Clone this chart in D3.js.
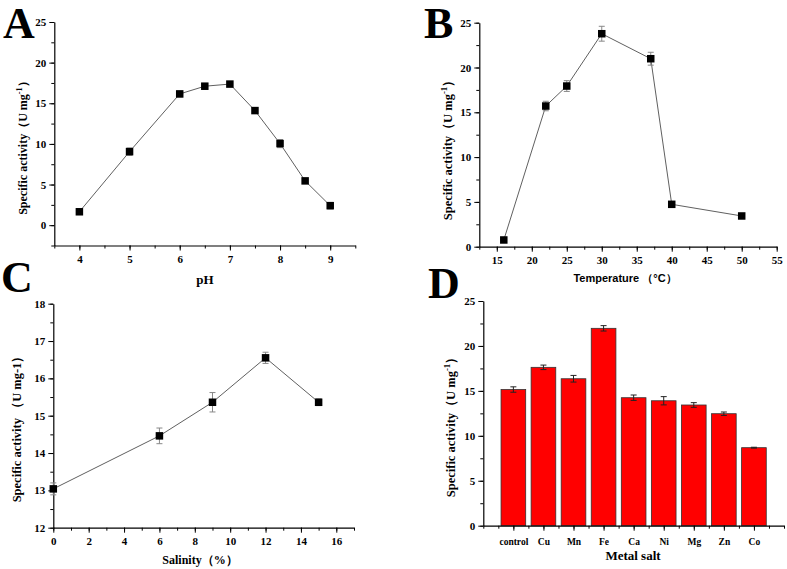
<!DOCTYPE html>
<html><head><meta charset="utf-8">
<script src="https://cdn.jsdelivr.net/npm/d3@7/dist/d3.min.js"></script>
<style>
html,body{margin:0;padding:0;background:#fff;}
svg{display:block;}
.tick text{font-family:"Liberation Serif","Times New Roman",serif;font-weight:bold;}
</style></head>
<body>
<svg id="chart" width="787" height="569"></svg>
<script>
// ---- data ----
const phX = [4, 5, 6, 6.5, 7, 7.5, 8, 8.5, 9];
const phY = [1.65, 9.05, 16.15, 17.1, 17.36, 14.1, 10.04, 5.45, 2.4];
const phErr = [0.1, 0.45, 0.35, 0.35, 0.15, 0.2, 0.5, 0.3, 0.4];
const phTicks = [4, 5, 6, 7, 8, 9];

const tempX = [16, 22, 25, 30, 37, 40, 50];
const tempY = [0.75, 15.7, 17.93, 23.77, 20.98, 4.73, 3.43];
const tempErr = [0.05, 0.53, 0.6, 0.83, 0.72, 0.1, 0.1];
const tempTicks = [15, 20, 25, 30, 35, 40, 45, 50, 55];

const salX = [0, 6, 9, 12, 15];
const salY = [13.04, 14.46, 15.36, 16.55, 15.36];
const salErr = [0.16, 0.21, 0.26, 0.15, 0.09];
const salTicks = [0, 2, 4, 6, 8, 10, 12, 14, 16];

const metals = ["control", "Cu", "Mn", "Fe", "Ca", "Ni", "Mg", "Zn", "Co"];
const metalY = [15.15, 17.62, 16.35, 21.96, 14.24, 13.9, 13.43, 12.46, 8.68];
const metalErr = [0.3, 0.25, 0.37, 0.3, 0.3, 0.46, 0.26, 0.19, 0.05];

const yTicksAB = [0, 5, 10, 15, 20, 25];
const yTicksC = [12, 13, 14, 15, 16, 17, 18];

const svg = d3.select("#chart");
const serif = '"Liberation Serif","Times New Roman",serif';
const sans = '"Liberation Sans",Arial,sans-serif';

function drawAxes(g, x, y, xTicks, xMinor, yTicks, yMinor, xFmt) {
  const xr = x.range(), yr = y.range();
  g.append("g").attr("transform", `translate(0,${yr[0]})`)
    .call(d3.axisBottom(x).tickValues(xMinor).tickSize(3).tickFormat(""))
    .call(s => s.select(".domain").remove())
    .selectAll("line").attr("stroke", "#000");
  g.append("g").attr("transform", `translate(${xr[0]},0)`)
    .call(d3.axisLeft(y).tickValues(yMinor).tickSize(3).tickFormat(""))
    .call(s => s.select(".domain").remove())
    .selectAll("line").attr("stroke", "#000");
  const xa = g.append("g").attr("transform", `translate(0,${yr[0]})`)
    .call(d3.axisBottom(x).tickValues(xTicks).tickSize(5).tickSizeOuter(0).tickPadding(5).tickFormat(xFmt || d3.format("d")));
  xa.select(".domain").attr("stroke", "#000").attr("stroke-width", 1.2);
  xa.selectAll("text").attr("font-size", 11).attr("fill", "#000");
  const ya = g.append("g").attr("transform", `translate(${xr[0]},0)`)
    .call(d3.axisLeft(y).tickValues(yTicks).tickSize(5).tickSizeOuter(0).tickPadding(3).tickFormat(d3.format("d")));
  ya.select(".domain").attr("stroke", "#000").attr("stroke-width", 1.2);
  ya.selectAll("text").attr("font-size", 11).attr("fill", "#000");
}

function drawLineSeries(g, x, y, xs, ys, es) {
  const pts = xs.map((v, i) => ({x: v, y: ys[i], e: es[i]}));
  g.append("path").datum(pts)
    .attr("fill", "none").attr("stroke", "#606060").attr("stroke-width", 1)
    .attr("d", d3.line().x(d => x(d.x)).y(d => y(d.y)));
  const eb = g.append("g").attr("stroke", "#888").attr("stroke-width", 1);
  pts.forEach(d => {
    eb.append("line").attr("x1", x(d.x)).attr("x2", x(d.x)).attr("y1", y(d.y - d.e)).attr("y2", y(d.y + d.e));
    eb.append("line").attr("x1", x(d.x) - 3).attr("x2", x(d.x) + 3).attr("y1", y(d.y - d.e)).attr("y2", y(d.y - d.e));
    eb.append("line").attr("x1", x(d.x) - 3).attr("x2", x(d.x) + 3).attr("y1", y(d.y + d.e)).attr("y2", y(d.y + d.e));
  });
  g.selectAll("rect.pt").data(pts).join("rect").attr("class", "pt")
    .attr("x", d => x(d.x) - 3.75).attr("y", d => y(d.y) - 3.75)
    .attr("width", 7.5).attr("height", 7.5).attr("fill", "#000");
}

function yLabel(g, cx, cy, size, sup, text) {
  const t = g.append("text").attr("transform", `translate(${cx},${cy}) rotate(-90)`)
    .attr("text-anchor", "middle").attr("font-family", serif).attr("font-weight", "bold")
    .attr("font-size", size).attr("fill", "#000");
  if (sup) {
    t.append("tspan").text("Specific activity（U mg");
    t.append("tspan").attr("dy", -5).attr("font-size", size * 0.7).text("-1");
    t.append("tspan").attr("dy", 5).text("）");
  } else {
    t.text(text);
  }
}

function letter(ch, x, y) {
  svg.append("text").attr("x", x).attr("y", y).attr("font-family", serif)
    .attr("font-weight", "bold").attr("font-size", 44).attr("fill", "#000").text(ch);
}

function range(a, b, s) { const r = []; for (let v = a; v <= b + 1e-9; v += s) r.push(+v.toFixed(4)); return r; }

// ---- Panel A ----
{
  const g = svg.append("g");
  const x = d3.scaleLinear().domain([3.5, 9.5]).range([54.3, 355.3]);
  const y = d3.scaleLinear().domain([-2.5, 25]).range([245.5, 22]);
  drawAxes(g, x, y, phTicks, range(3.5, 9.5, 0.5), yTicksAB, range(-2.5, 25, 2.5));
  drawLineSeries(g, x, y, phX, phY, phErr);
  yLabel(g, 27, 145, 12, true);
  g.append("text").attr("x", 205).attr("y", 284).attr("text-anchor", "middle")
    .attr("font-family", serif).attr("font-weight", "bold").attr("font-size", 13).text("pH");
}
// ---- Panel B ----
{
  const g = svg.append("g");
  const x = d3.scaleLinear().domain([12.5, 55]).range([479.3, 776.7]);
  const y = d3.scaleLinear().domain([0, 25]).range([246.7, 22.7]);
  drawAxes(g, x, y, tempTicks, range(12.5, 55, 2.5), yTicksAB, range(0, 25, 2.5));
  drawLineSeries(g, x, y, tempX, tempY, tempErr);
  yLabel(g, 452, 147, 12.5, true);
  g.append("text").attr("x", 625).attr("y", 282).attr("text-anchor", "middle")
    .attr("font-family", sans).attr("font-weight", "bold").attr("font-size", 11).text("Temperature （°C）");
}
// ---- Panel C ----
{
  const g = svg.append("g");
  const x = d3.scaleLinear().domain([0, 17]).range([53.3, 354]);
  const y = d3.scaleLinear().domain([12, 18]).range([527.7, 303.7]);
  drawAxes(g, x, y, salTicks, range(0, 17, 1), yTicksC, range(12, 18, 0.5));
  drawLineSeries(g, x, y, salX, salY, salErr);
  yLabel(g, 21, 426, 12.5, false, "Specific activity （U mg-1）");
  g.append("text").attr("x", 200).attr("y", 564).attr("text-anchor", "middle")
    .attr("font-family", serif).attr("font-weight", "bold").attr("font-size", 12).text("Salinity（%）");
}
// ---- Panel D ----
{
  const g = svg.append("g");
  const x = d3.scaleLinear().domain([0, 10]).range([483.3, 784]);
  const y = d3.scaleLinear().domain([0, 25]).range([525.7, 301]);
  const pos = metals.map((m, i) => i + 1);
  const bw = (x(1) - x(0)) * 0.82;
  g.selectAll("rect.bar").data(metals).join("rect").attr("class", "bar")
    .attr("x", (d, i) => x(pos[i]) - bw / 2).attr("y", (d, i) => y(metalY[i]))
    .attr("width", bw).attr("height", (d, i) => y(0) - y(metalY[i]))
    .attr("fill", "#ff0000").attr("stroke", "#333").attr("stroke-width", 0.8);
  const eb = g.append("g").attr("stroke", "#222").attr("stroke-width", 1);
  metals.forEach((m, i) => {
    const cx = x(pos[i]), t = y(metalY[i] + metalErr[i]), b = y(metalY[i] - metalErr[i]);
    eb.append("line").attr("x1", cx).attr("x2", cx).attr("y1", t).attr("y2", b);
    eb.append("line").attr("x1", cx - 3).attr("x2", cx + 3).attr("y1", t).attr("y2", t);
    eb.append("line").attr("x1", cx - 3).attr("x2", cx + 3).attr("y1", b).attr("y2", b);
  });
  drawAxes(g, x, y, pos, range(0, 10, 0.5), yTicksAB, range(0, 25, 2.5), d => metals[d - 1]);
  g.selectAll("g.tick text").filter(function () { return metals.includes(this.textContent); })
    .attr("font-size", 9.5).attr("dy", "1em");
  yLabel(g, 455, 424, 12.5, true);
  g.append("text").attr("x", 633).attr("y", 560).attr("text-anchor", "middle")
    .attr("font-family", serif).attr("font-weight", "bold").attr("font-size", 13).text("Metal salt");
}

letter("A", 3, 38);
letter("B", 424, 38);
letter("C", 1, 292);
letter("D", 428, 298);
</script>
</body></html>
